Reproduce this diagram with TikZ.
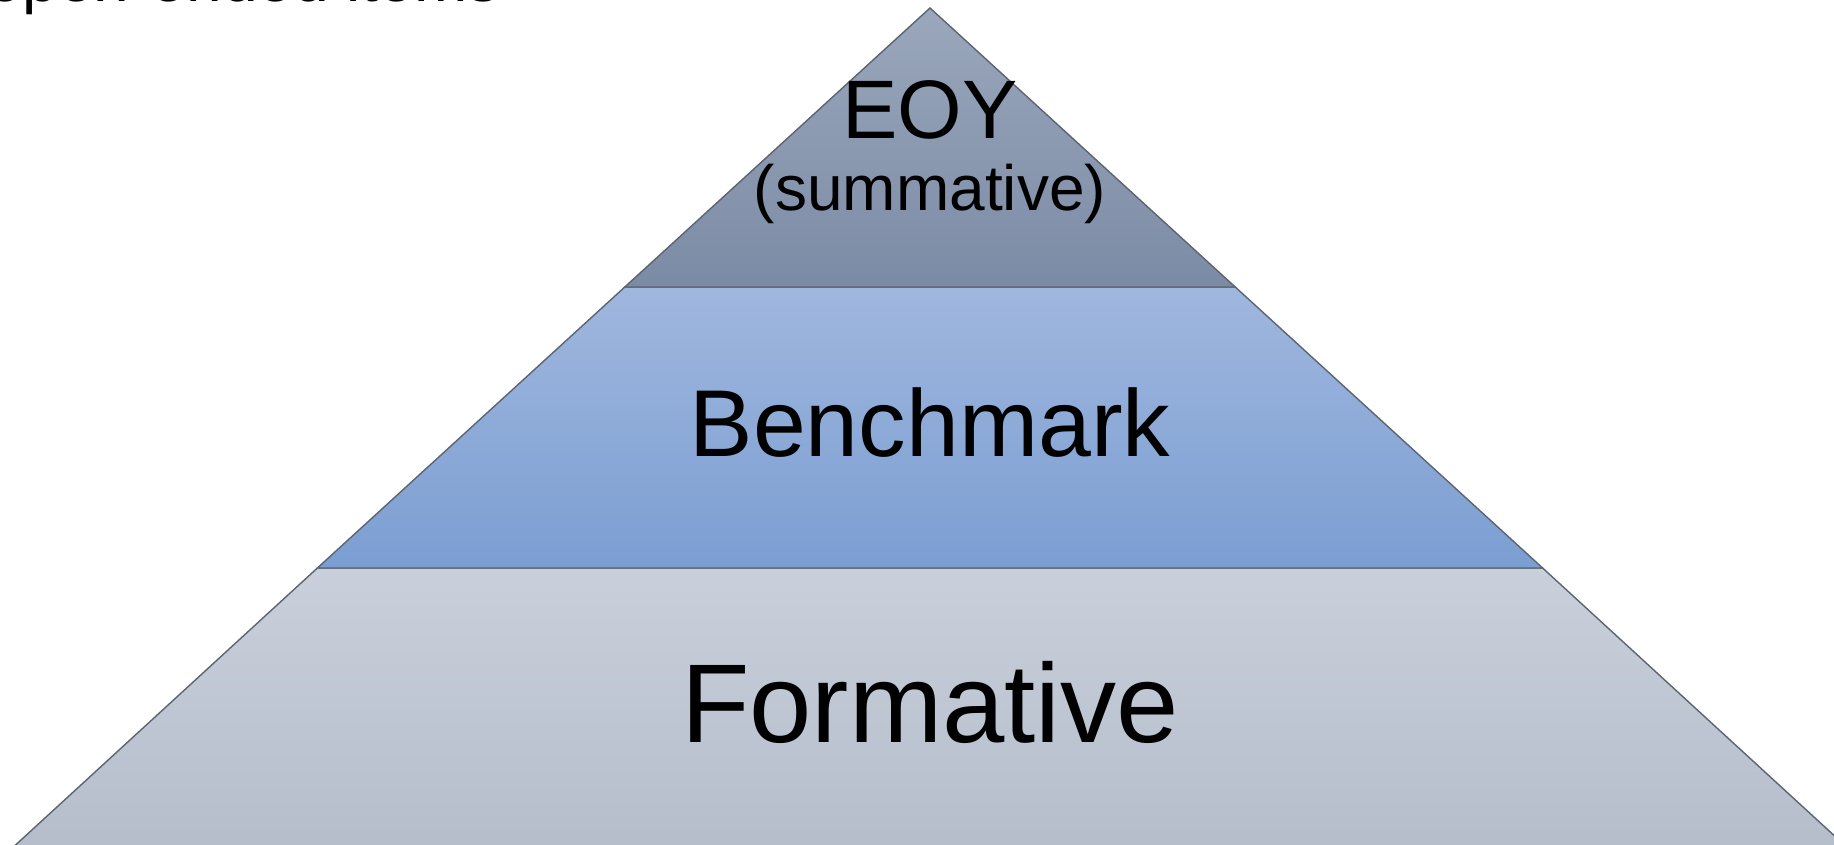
\documentclass[tikz,border=0pt]{standalone}
\usepackage{fontspec}
\setmainfont{Liberation Sans}
\definecolor{topA}{HTML}{9AA7BC}
\definecolor{topB}{HTML}{7C8BA5}
\definecolor{midA}{HTML}{A0B7DE}
\definecolor{midB}{HTML}{7B9ED2}
\definecolor{botA}{HTML}{C9D0DB}
\definecolor{botB}{HTML}{B5BDCB}
\definecolor{edge}{HTML}{5B646F}
\tikzset{
  band/.style={draw=edge, line width=1.4pt, line join=miter},
  lbl/.style={anchor=base, inner sep=0pt, text=black},
}
\begin{document}
\begin{tikzpicture}[x=1pt,y=-1pt]
\useasboundingbox (0,0) rectangle (1834,845);
\clip (0,0) rectangle (1834,845);
\fill[white] (0,0) rectangle (1834,845);
% corner coordinates
\coordinate (apex) at (930,8);
\coordinate (l1) at (624.8,287);
\coordinate (r1) at (1235.2,287);
\coordinate (l2) at (317.4,568);
\coordinate (r2) at (1542.6,568);
\coordinate (l3) at (9,851);
\coordinate (r3) at (1851,851);
% bands
\shadedraw[band, top color=botA, bottom color=botB] (l2) -- (r2) -- (r3) -- (l3) -- cycle;
\shadedraw[band, top color=midA, bottom color=midB] (l1) -- (r1) -- (r2) -- (l2) -- cycle;
\shadedraw[band, top color=topA, bottom color=topB] (apex) -- (r1) -- (l1) -- cycle;
% labels
\node[lbl, font=\fontsize{83}{90}\selectfont] (eoy) at (930,139) {EOY};
\node[lbl, font=\fontsize{64}{70}\selectfont] (summ) at (930,211) {(summative)};
\node[lbl, font=\fontsize{95}{100}\selectfont] (bench) at (930,456) {Benchmark};
\node[lbl, font=\fontsize{112}{120}\selectfont] (form) at (930,742) {Formative};
\node[anchor=base west, inner sep=0pt, font=\fontsize{64}{70}\selectfont] (items) at (-13,2) {open-ended items};
\end{tikzpicture}
\end{document}
